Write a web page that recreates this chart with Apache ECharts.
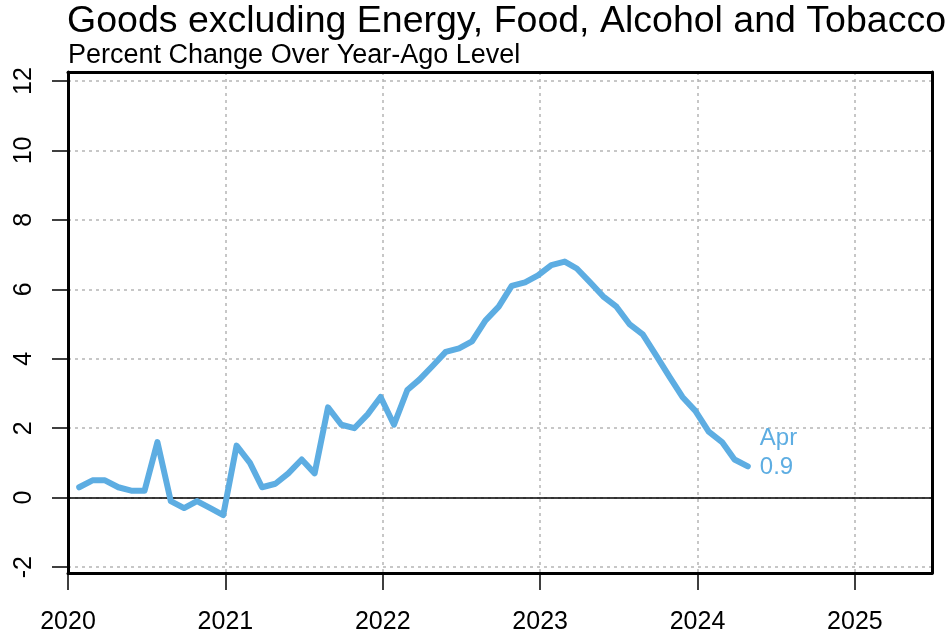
<!DOCTYPE html>
<html>
<head>
<meta charset="utf-8">
<script src="https://cdn.jsdelivr.net/npm/echarts@6/dist/echarts.min.js"></script>
<style>
html,body{margin:0;padding:0;background:#fff;}
#chart{width:949px;height:638px;}
</style>
</head>
<body>
<div id="chart"></div>
<script>
// ---- data ----
const months = [
  '2020-01','2020-02','2020-03','2020-04','2020-05','2020-06','2020-07','2020-08','2020-09','2020-10','2020-11','2020-12',
  '2021-01','2021-02','2021-03','2021-04','2021-05','2021-06','2021-07','2021-08','2021-09','2021-10','2021-11','2021-12',
  '2022-01','2022-02','2022-03','2022-04','2022-05','2022-06','2022-07','2022-08','2022-09','2022-10','2022-11','2022-12',
  '2023-01','2023-02','2023-03','2023-04','2023-05','2023-06','2023-07','2023-08','2023-09','2023-10','2023-11','2023-12',
  '2024-01','2024-02','2024-03','2024-04'
];
const values = [
  0.3, 0.5, 0.5, 0.3, 0.2, 0.2, 1.6, -0.1, -0.3, -0.1, -0.3, -0.5,
  1.5, 1.0, 0.3, 0.4, 0.7, 1.1, 0.7, 2.6, 2.1, 2.0, 2.4, 2.9,
  2.1, 3.1, 3.4, 3.8, 4.2, 4.3, 4.5, 5.1, 5.5, 6.1, 6.2, 6.4,
  6.7, 6.8, 6.6, 6.2, 5.8, 5.5, 5.0, 4.7, 4.1, 3.5, 2.9, 2.5,
  1.9, 1.6, 1.1, 0.9
];
const xTickLabels = [2020, 2021, 2022, 2023, 2024, 2025];
const yTickLabels = [-2, 0, 2, 4, 6, 8, 10, 12];
const titleText = 'Goods excluding Energy, Food, Alcohol and Tobacco';
const subtitleText = 'Percent Change Over Year-Ago Level';
const monthAbbr = ['Jan','Feb','Mar','Apr','May','Jun','Jul','Aug','Sep','Oct','Nov','Dec'];

// ---- build ----
const FONT = '"Liberation Sans", Arial, Helvetica, sans-serif';
const LINE_COLOR = '#5DADE2';
// observation dated late in each month (day 27) -> fractional year
function toYear(ym) {
  const p = ym.split('-');
  const y = parseInt(p[0], 10), m = parseInt(p[1], 10);
  const start = Date.UTC(y, 0, 1), end = Date.UTC(y + 1, 0, 1);
  return y + (Date.UTC(y, m - 1, 27) - start) / (end - start);
}
const seriesData = months.map((m, i) => [toYear(m), values[i]]);
const lastMonth = months[months.length - 1];
const lastLabel = monthAbbr[parseInt(lastMonth.split('-')[1], 10) - 1] + '\n' + values[values.length - 1].toFixed(1);

const chart = echarts.init(document.getElementById('chart'), null, { renderer: 'canvas' });
const xMin = 2020, xMax = 2025.49;
const yMin = -2.17, yMax = 12.26;

chart.setOption({
  animation: false,
  backgroundColor: '#fff',
  title: [
    { text: titleText, left: 67, top: 3, padding: 0,
      textStyle: { fontFamily: FONT, fontSize: 37.5, fontWeight: 'normal', color: '#000' } },
    { text: subtitleText, left: 68, top: 42, padding: 0,
      textStyle: { fontFamily: FONT, fontSize: 27, fontWeight: 'normal', color: '#000' } }
  ],
  grid: { left: 68, right: 17, top: 72, bottom: 65, containLabel: false },
  xAxis: [
    {
      type: 'value', min: xMin, max: xMax, position: 'bottom',
      axisLine: { show: true, onZero: false, lineStyle: { color: '#000', width: 3 } },
      axisTick: { show: true, length: 17, customValues: xTickLabels, lineStyle: { color: '#000', width: 1.5 } },
      axisLabel: { show: true, customValues: xTickLabels, margin: 37, color: '#000', fontSize: 25, fontFamily: FONT,
        formatter: v => String(Math.round(v)) },
      splitLine: { show: true, lineStyle: { color: '#b5b5b5', width: 1.5, type: [3, 4] } }
    },
    {
      type: 'value', min: xMin, max: xMax, position: 'top',
      axisLine: { show: true, onZero: false, lineStyle: { color: '#000', width: 3 } },
      axisTick: { show: false }, axisLabel: { show: false }, splitLine: { show: false }
    }
  ],
  yAxis: [
    {
      type: 'value', min: yMin, max: yMax, position: 'left',
      axisLine: { show: true, onZero: false, lineStyle: { color: '#000', width: 3 } },
      axisTick: { show: true, length: 16, customValues: yTickLabels, lineStyle: { color: '#000', width: 1.5 } },
      axisLabel: { show: true, customValues: yTickLabels, rotate: 90, margin: 31, color: '#000', fontSize: 25, fontFamily: FONT,
        formatter: v => String(Math.round(v)) },
      splitLine: { show: true, lineStyle: { color: '#b5b5b5', width: 1.5, type: [3, 4] } }
    },
    {
      type: 'value', min: yMin, max: yMax, position: 'right',
      axisLine: { show: true, onZero: false, lineStyle: { color: '#000', width: 3 } },
      axisTick: { show: false }, axisLabel: { show: false }, splitLine: { show: false }
    }
  ],
  series: [
    {
      type: 'line',
      xAxisIndex: 0, yAxisIndex: 0,
      data: seriesData,
      showSymbol: false,
      symbol: 'none',
      lineStyle: { color: LINE_COLOR, width: 6, cap: 'round', join: 'round' },
      itemStyle: { color: LINE_COLOR },
      z: 3,
      endLabel: {
        show: true,
        formatter: () => lastLabel,
        distance: 12,
        offset: [0, -14],
        color: LINE_COLOR,
        fontSize: 24,
        lineHeight: 29,
        fontFamily: FONT,
        align: 'left'
      },
      markLine: {
        silent: true,
        symbol: ['none', 'none'],
        label: { show: false },
        lineStyle: { color: '#000', width: 1.5, type: 'solid' },
        data: [{ yAxis: 0 }],
        z: 2
      }
    }
  ]
});
</script>
</body>
</html>
